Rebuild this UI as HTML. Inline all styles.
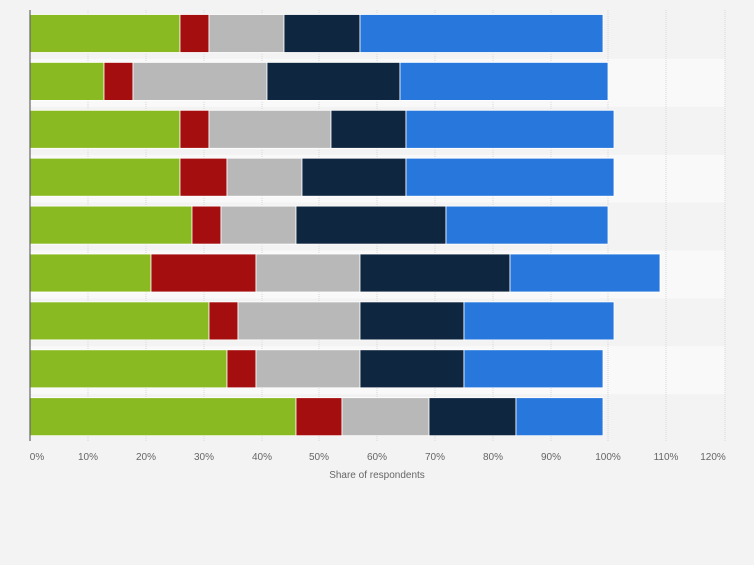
<!DOCTYPE html>
<html><head><style>
body{margin:0;width:754px;height:560px;background:#f3f3f3;font-family:"Liberation Sans",sans-serif;overflow:hidden}
</style></head><body>
<svg width="754" height="560" xmlns="http://www.w3.org/2000/svg">
<rect width="754" height="560" fill="#f3f3f3"/>
<g fill="#f9f9f9">
<rect x="30" y="58.9" width="695" height="47.9"/>
<rect x="30" y="154.7" width="695" height="47.9"/>
<rect x="30" y="250.5" width="695" height="47.9"/>
<rect x="30" y="346.3" width="695" height="47.9"/>
</g>
<g stroke="#d8d8d8" stroke-dasharray="1,1" stroke-width="1">
<line x1="88" y1="10" x2="88" y2="441"/><line x1="146" y1="10" x2="146" y2="441"/>
<line x1="204" y1="10" x2="204" y2="441"/><line x1="262" y1="10" x2="262" y2="441"/>
<line x1="319" y1="10" x2="319" y2="441"/><line x1="377" y1="10" x2="377" y2="441"/>
<line x1="435" y1="10" x2="435" y2="441"/><line x1="493" y1="10" x2="493" y2="441"/>
<line x1="551" y1="10" x2="551" y2="441"/><line x1="608" y1="10" x2="608" y2="441"/>
<line x1="666" y1="10" x2="666" y2="441"/><line x1="725" y1="10" x2="725" y2="441"/>
</g>
<g stroke="#ffffff" stroke-width="0.8">
<g transform="translate(0,14.5)">
<rect x="30" width="150" height="38" fill="#8aba22"/><rect x="180" width="29" height="38" fill="#a50e0e"/><rect x="209" width="75" height="38" fill="#b8b8b8"/><rect x="284" width="76" height="38" fill="#0f2640"/><rect x="360" width="243" height="38" fill="#2777dc"/>
</g>
<g transform="translate(0,62.4)">
<rect x="30" width="74" height="38" fill="#8aba22"/><rect x="104" width="29" height="38" fill="#a50e0e"/><rect x="133" width="134" height="38" fill="#b8b8b8"/><rect x="267" width="133" height="38" fill="#0f2640"/><rect x="400" width="208" height="38" fill="#2777dc"/>
</g>
<g transform="translate(0,110.3)">
<rect x="30" width="150" height="38" fill="#8aba22"/><rect x="180" width="29" height="38" fill="#a50e0e"/><rect x="209" width="122" height="38" fill="#b8b8b8"/><rect x="331" width="75" height="38" fill="#0f2640"/><rect x="406" width="208" height="38" fill="#2777dc"/>
</g>
<g transform="translate(0,158.2)">
<rect x="30" width="150" height="38" fill="#8aba22"/><rect x="180" width="47" height="38" fill="#a50e0e"/><rect x="227" width="75" height="38" fill="#b8b8b8"/><rect x="302" width="104" height="38" fill="#0f2640"/><rect x="406" width="208" height="38" fill="#2777dc"/>
</g>
<g transform="translate(0,206.1)">
<rect x="30" width="162" height="38" fill="#8aba22"/><rect x="192" width="29" height="38" fill="#a50e0e"/><rect x="221" width="75" height="38" fill="#b8b8b8"/><rect x="296" width="150" height="38" fill="#0f2640"/><rect x="446" width="162" height="38" fill="#2777dc"/>
</g>
<g transform="translate(0,254)">
<rect x="30" width="121" height="38" fill="#8aba22"/><rect x="151" width="105" height="38" fill="#a50e0e"/><rect x="256" width="104" height="38" fill="#b8b8b8"/><rect x="360" width="150" height="38" fill="#0f2640"/><rect x="510" width="150" height="38" fill="#2777dc"/>
</g>
<g transform="translate(0,301.9)">
<rect x="30" width="179" height="38" fill="#8aba22"/><rect x="209" width="29" height="38" fill="#a50e0e"/><rect x="238" width="122" height="38" fill="#b8b8b8"/><rect x="360" width="104" height="38" fill="#0f2640"/><rect x="464" width="150" height="38" fill="#2777dc"/>
</g>
<g transform="translate(0,349.8)">
<rect x="30" width="197" height="38" fill="#8aba22"/><rect x="227" width="29" height="38" fill="#a50e0e"/><rect x="256" width="104" height="38" fill="#b8b8b8"/><rect x="360" width="104" height="38" fill="#0f2640"/><rect x="464" width="139" height="38" fill="#2777dc"/>
</g>
<g transform="translate(0,397.7)">
<rect x="30" width="266" height="38" fill="#8aba22"/><rect x="296" width="46" height="38" fill="#a50e0e"/><rect x="342" width="87" height="38" fill="#b8b8b8"/><rect x="429" width="87" height="38" fill="#0f2640"/><rect x="516" width="87" height="38" fill="#2777dc"/>
</g>
</g>
<line x1="30" y1="10" x2="30" y2="441" stroke="#666" stroke-width="1.2"/>
<g font-size="10" fill="#666" text-anchor="middle">
<text x="37" y="460">0%</text><text x="88" y="460">10%</text><text x="146" y="460">20%</text>
<text x="204" y="460">30%</text><text x="262" y="460">40%</text><text x="319" y="460">50%</text>
<text x="377" y="460">60%</text><text x="435" y="460">70%</text><text x="493" y="460">80%</text>
<text x="551" y="460">90%</text><text x="608" y="460">100%</text><text x="666" y="460">110%</text>
<text x="713" y="460">120%</text>
<text x="377" y="478">Share of respondents</text>
</g>
</svg>
</body></html>
